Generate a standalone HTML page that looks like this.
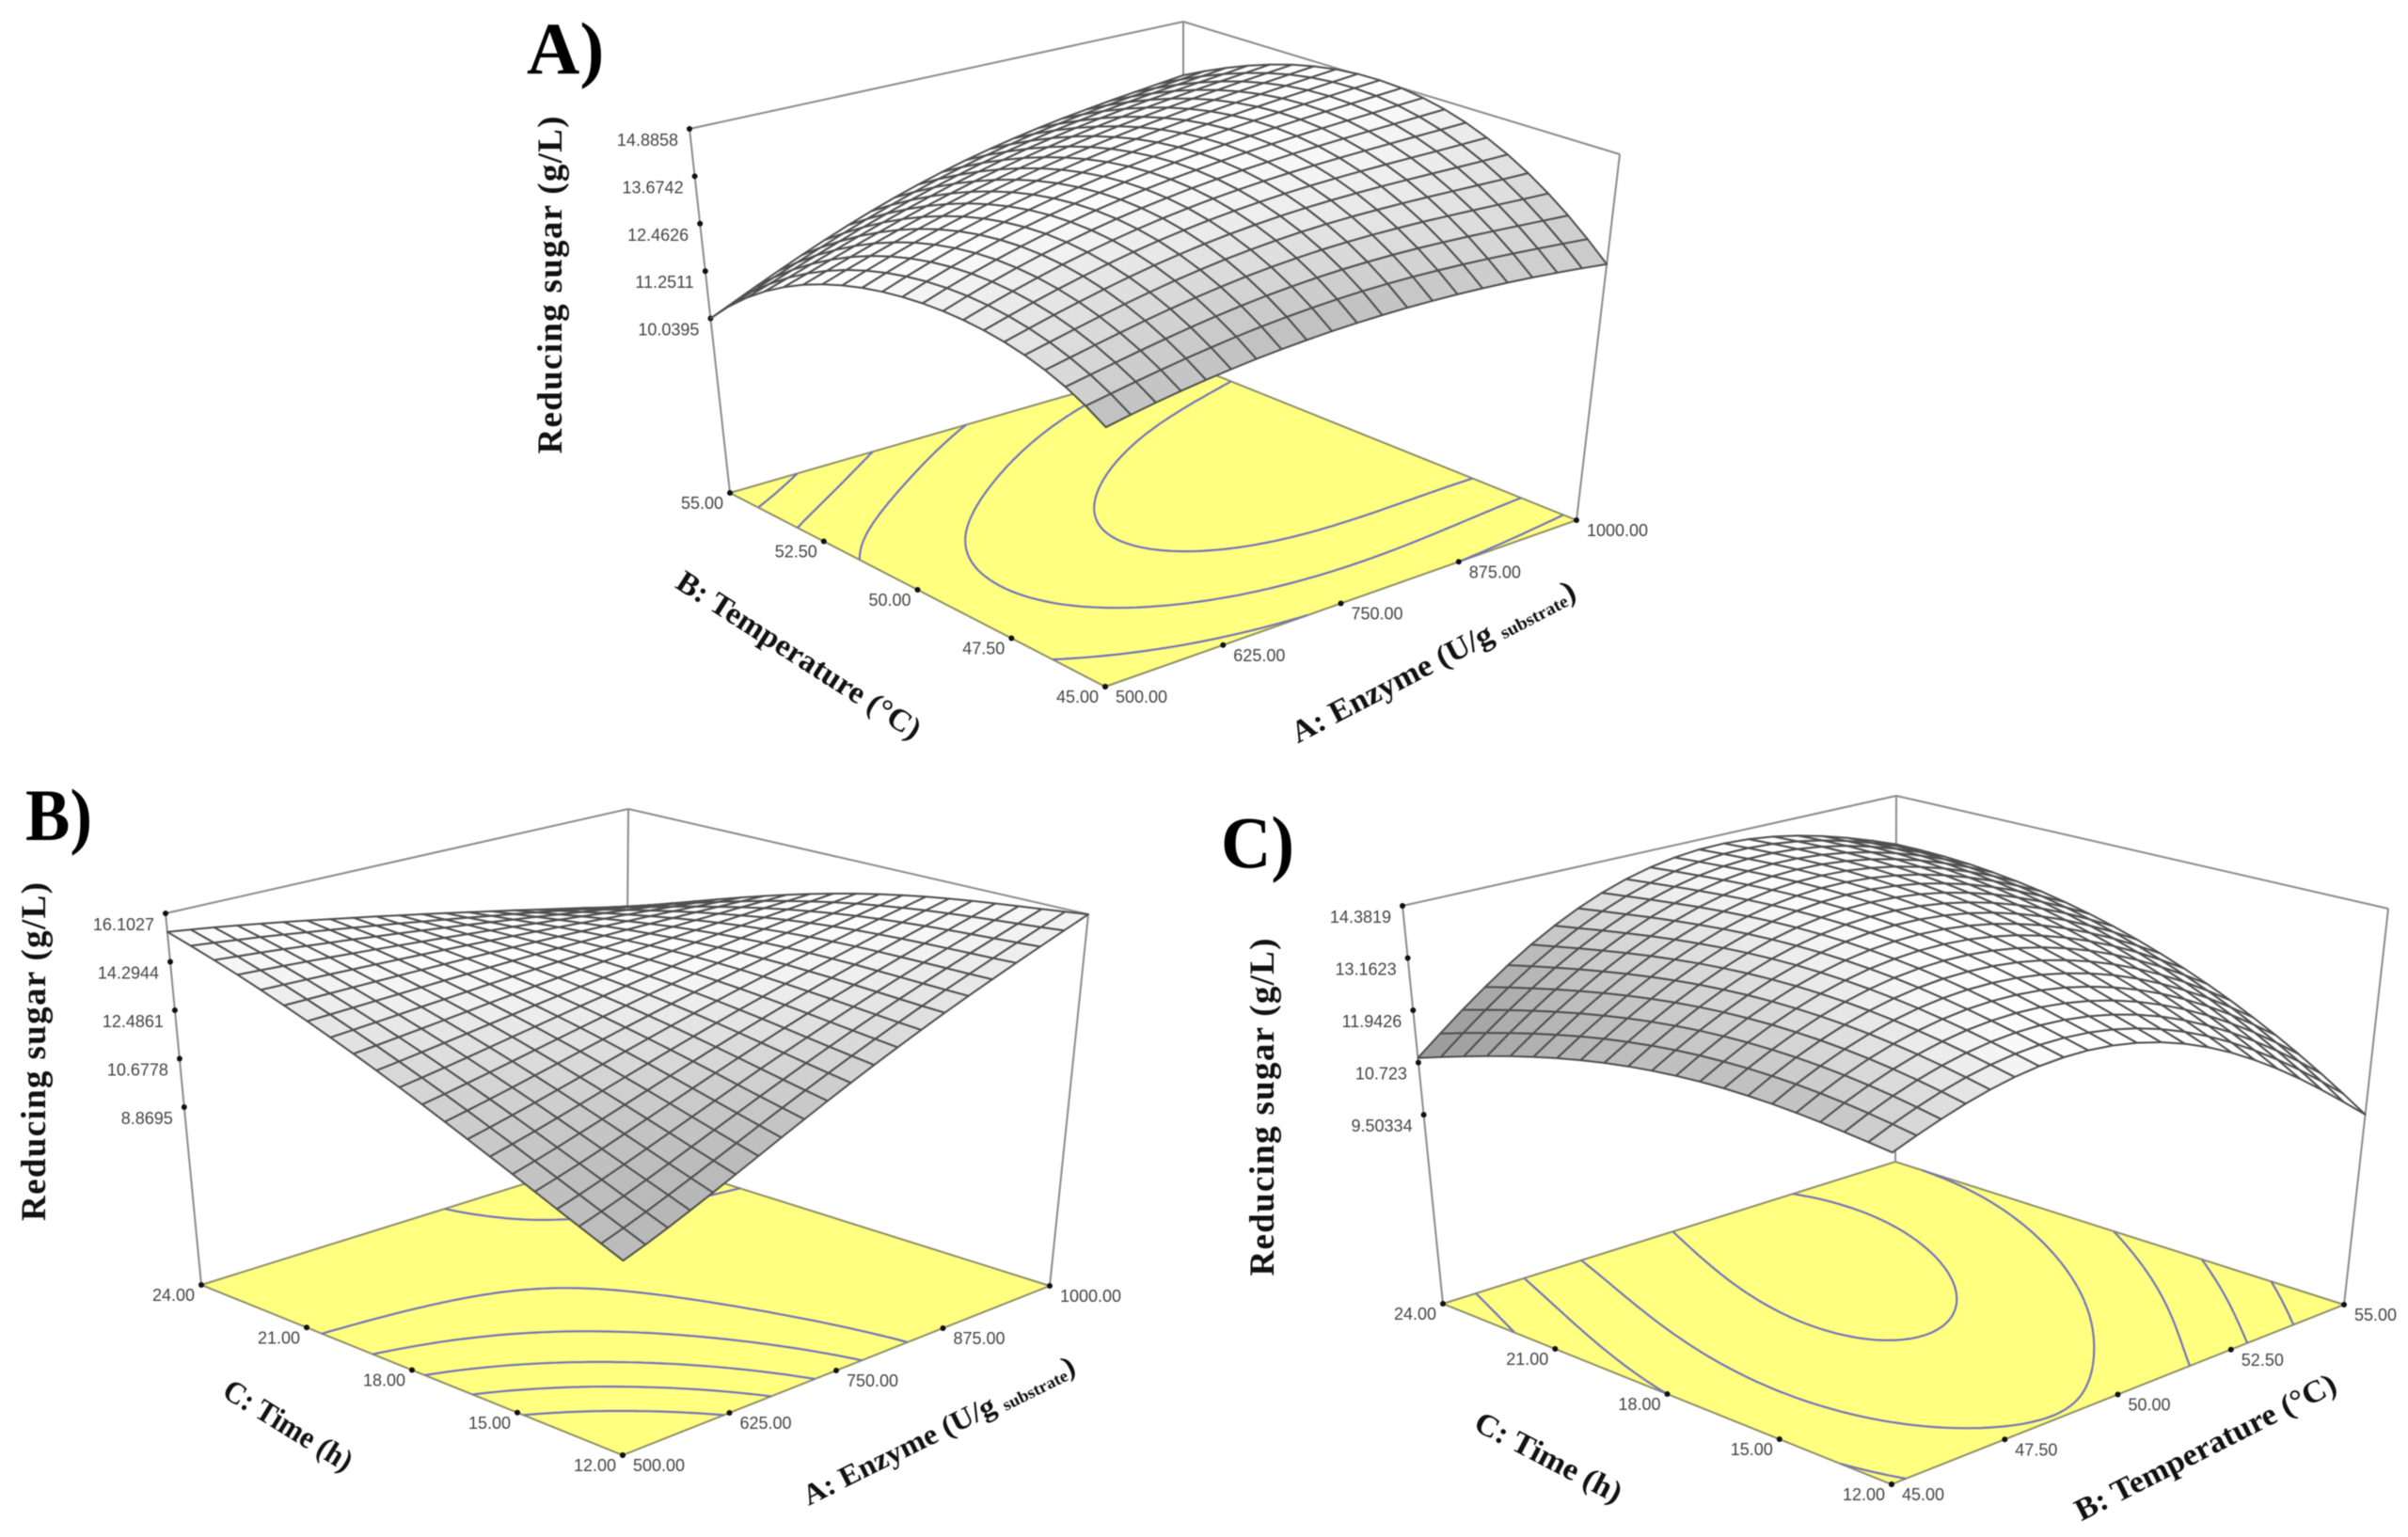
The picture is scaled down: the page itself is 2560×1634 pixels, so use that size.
<!DOCTYPE html>
<html lang="en">
<head>
<meta charset="utf-8">
<title>Response surface plots of reducing sugar</title>
<style>
html,body{margin:0;padding:0;background:#fff;}
svg{display:block;filter:blur(0.6px);}
.tick{font-family:"Liberation Sans",Arial,sans-serif;font-size:18px;fill:#444;}
.axis-title{font-family:"Liberation Serif","Times New Roman",serif;font-weight:700;fill:#111;}
.panel{font-family:"Liberation Serif","Times New Roman",serif;font-weight:700;font-size:78px;fill:#000;}
</style>
</head>
<body>
<svg id="figure" xmlns="http://www.w3.org/2000/svg" width="2560" height="1634" viewBox="0 0 2560 1634">
  <rect width="2560" height="1634" fill="#fff"/>

  <g id="chart-a"></g>
  <g id="chart-b"></g>
  <g id="chart-c"></g>

  <text class="panel" x="560" y="78">A)</text>
  <text class="panel" x="27" y="893" textLength="71" lengthAdjust="spacingAndGlyphs">B)</text>
  <text class="panel" x="1298" y="922" textLength="78" lengthAdjust="spacingAndGlyphs">C)</text>

  <text class="axis-title" font-size="37" text-anchor="middle" transform="translate(597,303) rotate(-90)" textLength="359">Reducing sugar (g/L)</text>
  <text class="axis-title" font-size="33" text-anchor="middle" y="10" transform="translate(849,697) rotate(32.7)" textLength="302" lengthAdjust="spacingAndGlyphs">B: Temperature (°C)</text>
  <text class="axis-title" font-size="33" text-anchor="middle" y="10" transform="translate(1524,704) rotate(-27.5)" textLength="336" lengthAdjust="spacingAndGlyphs">A: Enzyme (U/g <tspan font-size="19" dy="3">substrate</tspan><tspan dy="-3">)</tspan></text>

  <text class="axis-title" font-size="37" text-anchor="middle" transform="translate(48,1118) rotate(-90)" textLength="360">Reducing sugar (g/L)</text>
  <text class="axis-title" font-size="33" text-anchor="middle" y="10" transform="translate(306,1516) rotate(31.7)" textLength="155" lengthAdjust="spacingAndGlyphs">C: Time (h)</text>
  <text class="axis-title" font-size="31" text-anchor="middle" y="10" transform="translate(998,1521) rotate(-26.4)" textLength="319" lengthAdjust="spacingAndGlyphs">A: Enzyme (U/g <tspan font-size="18" dy="3">substrate</tspan><tspan dy="-3">)</tspan></text>

  <text class="axis-title" font-size="37" text-anchor="middle" transform="translate(1354,1177) rotate(-90)" textLength="359">Reducing sugar (g/L)</text>
  <text class="axis-title" font-size="33" text-anchor="middle" y="10" transform="translate(1646,1550) rotate(27.5)" textLength="172" lengthAdjust="spacingAndGlyphs">C: Time (h)</text>
  <text class="axis-title" font-size="33" text-anchor="middle" y="10" transform="translate(2345,1539) rotate(-26.9)" textLength="307" lengthAdjust="spacingAndGlyphs">B: Temperature (°C)</text>
</svg>

<script>
/* ---------- Chart A data ---------- */
const aEnzymeTicks = [500, 625, 750, 875, 1000];
const aEnzymeLabels = ["500.00", "625.00", "750.00", "875.00", "1000.00"];
const aTemperatureTicks = [45, 47.5, 50, 52.5, 55];
const aTemperatureLabels = ["45.00", "47.50", "50.00", "52.50", "55.00"];
const aSugarTicks = [10.0395, 11.2511, 12.4626, 13.6742, 14.8858];
const aSugarLabels = ["10.0395", "11.2511", "12.4626", "13.6742", "14.8858"];
const aSugarFloor = 5.58;
const aContourLevels = [10.8, 11.6, 12.4, 13.3, 14.1];
/* rows: temperature 45 to 55, columns: enzyme 500 to 1000 */
const aSugarSurface = [
  [11.69, 12.20, 12.44, 12.40, 12.09],
  [12.70, 13.45, 13.92, 14.05, 14.02],
  [12.76, 13.70, 14.30, 14.65, 14.88],
  [12.00, 12.95, 13.72, 14.25, 14.62],
  [10.04, 11.30, 12.33, 13.00, 13.42]
];

/* ---------- Chart B data ---------- */
const bEnzymeTicks = [500, 625, 750, 875, 1000];
const bEnzymeLabels = ["500.00", "625.00", "750.00", "875.00", "1000.00"];
const bTimeTicks = [12, 15, 18, 21, 24];
const bTimeLabels = ["12.00", "15.00", "18.00", "21.00", "24.00"];
const bSugarTicks = [8.8695, 10.6778, 12.4861, 14.2944, 16.1027];
const bSugarLabels = ["8.8695", "10.6778", "12.4861", "14.2944", "16.1027"];
const bSugarFloor = 2.23;
const bContourLevels = [10.45, 11.3, 12.1, 12.95, 13.75];
/* rows: time 12 to 24, columns: enzyme 500 to 1000 */
const bSugarSurface = [
  [8.87, 10.55, 12.49, 14.35, 16.10],
  [10.55, 11.77, 13.14, 14.43, 15.61],
  [12.31, 12.98, 13.70, 14.33, 14.86],
  [13.98, 14.00, 13.97, 13.86, 13.64],
  [15.41, 14.78, 14.00, 13.12, 12.15]
];

/* ---------- Chart C data ---------- */
const cTemperatureTicks = [45, 47.5, 50, 52.5, 55];
const cTemperatureLabels = ["45.00", "47.50", "50.00", "52.50", "55.00"];
const cTimeTicks = [12, 15, 18, 21, 24];
const cTimeLabels = ["12.00", "15.00", "18.00", "21.00", "24.00"];
const cSugarTicks = [9.50334, 10.723, 11.9426, 13.1623, 14.3819];
const cSugarLabels = ["9.50334", "10.723", "11.9426", "13.1623", "14.3819"];
const cSugarFloor = 5.09;
const cContourLevels = [10.6, 11.45, 12.3, 13.15, 14.0];
/* rows: time 12 to 24, columns: temperature 45 to 55 */
const cSugarSurface = [
  [12.17, 13.00, 12.95, 11.72, 9.55],
  [12.40, 13.48, 13.67, 12.86, 11.10],
  [12.30, 13.62, 14.14, 13.66, 12.25],
  [11.75, 13.36, 14.21, 14.06, 12.95],
  [10.83, 12.80, 13.98, 14.05, 13.15]
];

/* ---------- Layout (frame geometry, separate from data) ---------- */
const SVG_NS = "http://www.w3.org/2000/svg";
const MESH_CELLS = 20;
const CONTOUR_CELLS = 70;
const READ_NODES = [0, 0.25, 0.5, 0.75, 1];

const layoutA = {
  floor: { front: [1175, 730], right: [1676, 553], left: [776, 524], back: [1258, 385] },
  top: { front: [1176, 310], right: [1722, 164], left: [733, 137], back: [1258, 23] },
  shade: { strength: 75, u: 1, v: 1, darkest: 160 }
};
const layoutB = {
  floor: { front: [662, 1547], right: [1116, 1367], left: [214, 1366], back: [665, 1225] },
  top: { front: [663, 1115], right: [1157, 972], left: [176, 971], back: [668, 860] },
  shade: { strength: 90, u: 1, v: 1, darkest: 145 }
};
const layoutC = {
  floor: { front: [2011, 1578], right: [2492, 1387], left: [1534, 1386], back: [2015, 1235] },
  top: { front: [2012, 1115], right: [2539, 966], left: [1491, 963], back: [2016, 846] },
  shade: { strength: 160, u: 1, v: 0.3, darkest: 125 }
};

/* ---------- Axis and projection helpers ---------- */
function bilinear(q, u, v) {
  return [0, 1].map(function (k) {
    return (1 - u) * (1 - v) * q.front[k] + u * (1 - v) * q.right[k] + (1 - u) * v * q.left[k] + u * v * q.back[k];
  });
}
function project(layout, u, v, w) {
  const a = bilinear(layout.floor, u, v);
  const b = bilinear(layout.top, u, v);
  return [a[0] + (b[0] - a[0]) * w, a[1] + (b[1] - a[1]) * w];
}
function scaleOf(ticks) {
  const lo = ticks[0], hi = ticks[ticks.length - 1];
  return function (value) { return (value - lo) / (hi - lo); };
}
/* smooth curve through the values read at the five grid positions */
function smoothWeights(t) {
  return READ_NODES.map(function (ni, i) {
    let p = 1;
    READ_NODES.forEach(function (nj, j) {
      if (i !== j) p *= (t - nj) / (ni - nj);
    });
    return p;
  });
}
function surfaceValue(table, u, v) {
  const wu = smoothWeights(u), wv = smoothWeights(v);
  let s = 0;
  for (let r = 0; r < table.length; r++) {
    for (let c = 0; c < table[r].length; c++) {
      s += wv[r] * wu[c] * table[r][c];
    }
  }
  return s;
}
function svgEl(tag, parent) {
  const el = document.createElementNS(SVG_NS, tag);
  parent.appendChild(el);
  return el;
}
function lineBetween(parent, p, q) {
  const el = svgEl("line", parent);
  el.setAttribute("x1", p[0].toFixed(1));
  el.setAttribute("y1", p[1].toFixed(1));
  el.setAttribute("x2", q[0].toFixed(1));
  el.setAttribute("y2", q[1].toFixed(1));
  el.setAttribute("stroke", "#8c8c8c");
  el.setAttribute("stroke-width", "2");
  
  
  return el;
}
function tickDot(parent, p) {
  const el = svgEl("circle", parent);
  el.setAttribute("cx", p[0].toFixed(1));
  el.setAttribute("cy", p[1].toFixed(1));
  el.setAttribute("r", "3");
  el.setAttribute("fill", "#111");
  
  
}
function tickText(parent, p, dx, dy, anchor, label) {
  const el = svgEl("text", parent);
  el.setAttribute("class", "tick");
  el.setAttribute("x", (p[0] + dx).toFixed(1));
  el.setAttribute("y", (p[1] + dy).toFixed(1));
  el.setAttribute("text-anchor", anchor);
  
  
  el.textContent = label;
}

/* ---------- Contours on the floor, traced from the surface values ---------- */
function contourPath(layout, table, level) {
  const n = CONTOUR_CELLS;
  const field = [];
  for (let j = 0; j <= n; j++) {
    const row = [];
    for (let i = 0; i <= n; i++) row.push(surfaceValue(table, i / n, j / n));
    field.push(row);
  }
  function cross(u0, v0, f0, u1, v1, f1) {
    const t = (level - f0) / (f1 - f0);
    return project(layout, u0 + (u1 - u0) * t, v0 + (v1 - v0) * t, 0);
  }
  let d = "";
  for (let j = 0; j < n; j++) {
    for (let i = 0; i < n; i++) {
      const u0 = i / n, u1 = (i + 1) / n, v0 = j / n, v1 = (j + 1) / n;
      const a = field[j][i], b = field[j][i + 1], c = field[j + 1][i + 1], e = field[j + 1][i];
      const pts = [];
      if ((a < level) !== (b < level)) pts.push(cross(u0, v0, a, u1, v0, b));
      if ((b < level) !== (c < level)) pts.push(cross(u1, v0, b, u1, v1, c));
      if ((e < level) !== (c < level)) pts.push(cross(u0, v1, e, u1, v1, c));
      if ((a < level) !== (e < level)) pts.push(cross(u0, v0, a, u0, v1, e));
      if (pts.length >= 2) {
        d += "M" + pts[0][0].toFixed(1) + " " + pts[0][1].toFixed(1) + "L" + pts[1][0].toFixed(1) + " " + pts[1][1].toFixed(1);
      }
      if (pts.length === 4) {
        d += "M" + pts[2][0].toFixed(1) + " " + pts[2][1].toFixed(1) + "L" + pts[3][0].toFixed(1) + " " + pts[3][1].toFixed(1);
      }
    }
  }
  return d;
}

/* ---------- Whole chart ---------- */
function drawChart(opts) {
  const root = document.getElementById(opts.id);
  const L = opts.layout;
  const zTop = opts.zTicks[opts.zTicks.length - 1];
  const zToW = function (z) { return (z - opts.zFloor) / (zTop - opts.zFloor); };
  const uScale = scaleOf(opts.uTicks);
  const vScale = scaleOf(opts.vTicks);

  /* box */
  lineBetween(root, L.top.left, L.top.back);
  lineBetween(root, L.top.back, L.top.right);
  lineBetween(root, L.top.left, L.floor.left);
  lineBetween(root, L.top.right, L.floor.right);
  lineBetween(root, L.top.back, L.floor.back);

  /* floor */
  const floor = svgEl("polygon", root);
  floor.setAttribute("points", [L.floor.front, L.floor.right, L.floor.back, L.floor.left].map(function (p) { return p.join(","); }).join(" "));
  floor.setAttribute("fill", "#ffff80");
  floor.setAttribute("stroke", "#8f8f6a");
  floor.setAttribute("stroke-width", "2");
  
  

  /* contours */
  opts.levels.forEach(function (level) {
    const path = svgEl("path", root);
    path.setAttribute("d", contourPath(L, opts.surface, level));
    path.setAttribute("fill", "none");
    path.setAttribute("stroke", "#7474bc");
    path.setAttribute("stroke-width", "2.2");
    
    
  });

  /* ticks */
  opts.zTicks.forEach(function (z, i) {
    const p = project(L, 0, 1, zToW(z));
    tickDot(root, p);
    tickText(root, p, -12, 18, "end", opts.zLabels[i]);
  });
  opts.vTicks.forEach(function (val, i) {
    const p = project(L, 0, vScale(val), 0);
    tickDot(root, p);
    tickText(root, p, -7, 17, "end", opts.vLabels[i]);
  });
  opts.uTicks.forEach(function (val, i) {
    const p = project(L, uScale(val), 0, 0);
    tickDot(root, p);
    tickText(root, p, 11, 17, "start", opts.uLabels[i]);
  });

  /* surface mesh, painted from the back corner toward the viewer */
  const n = MESH_CELLS;
  const w = [], screen = [];
  for (let j = 0; j <= n; j++) {
    w.push([]);
    screen.push([]);
    for (let i = 0; i <= n; i++) {
      const u = i / n, v = j / n;
      const wv = zToW(surfaceValue(opts.surface, u, v));
      w[j].push(wv);
      screen[j].push(project(L, u, v, wv));
    }
  }
  const mesh = svgEl("g", root);
  
  
  for (let j = n - 1; j >= 0; j--) {
    for (let i = n - 1; i >= 0; i--) {
      const wu = ((w[j][i + 1] + w[j + 1][i + 1]) - (w[j][i] + w[j + 1][i])) / 2 * n;
      const wv = ((w[j + 1][i] + w[j + 1][i + 1]) - (w[j][i] + w[j][i + 1])) / 2 * n;
      const rise = Math.max(0, L.shade.u * wu + L.shade.v * wv);
      const g = Math.round(Math.max(L.shade.darkest, 254 - L.shade.strength * rise * rise));
      const cell = svgEl("polygon", mesh);
      const corners = [screen[j][i], screen[j][i + 1], screen[j + 1][i + 1], screen[j + 1][i]];
      cell.setAttribute("points", corners.map(function (p) { return p[0].toFixed(1) + "," + p[1].toFixed(1); }).join(" "));
      cell.setAttribute("fill", "rgb(" + g + "," + g + "," + g + ")");
      cell.setAttribute("stroke", "#505050");
      cell.setAttribute("stroke-width", "2");
      cell.setAttribute("stroke-linejoin", "round");
      
      
    }
  }
}

drawChart({
  id: "chart-a", layout: layoutA,
  uTicks: aEnzymeTicks, uLabels: aEnzymeLabels,
  vTicks: aTemperatureTicks, vLabels: aTemperatureLabels,
  zTicks: aSugarTicks, zLabels: aSugarLabels, zFloor: aSugarFloor,
  surface: aSugarSurface, levels: aContourLevels
});
drawChart({
  id: "chart-b", layout: layoutB,
  uTicks: bEnzymeTicks, uLabels: bEnzymeLabels,
  vTicks: bTimeTicks, vLabels: bTimeLabels,
  zTicks: bSugarTicks, zLabels: bSugarLabels, zFloor: bSugarFloor,
  surface: bSugarSurface, levels: bContourLevels
});
drawChart({
  id: "chart-c", layout: layoutC,
  uTicks: cTemperatureTicks, uLabels: cTemperatureLabels,
  vTicks: cTimeTicks, vLabels: cTimeLabels,
  zTicks: cSugarTicks, zLabels: cSugarLabels, zFloor: cSugarFloor,
  surface: cSugarSurface, levels: cContourLevels
});
</script>
</body>
</html>
